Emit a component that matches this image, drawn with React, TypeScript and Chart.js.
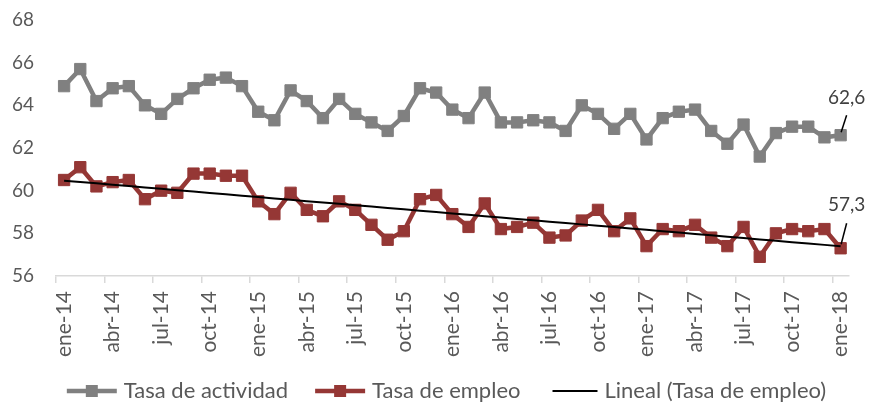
import React, { useEffect, useRef } from 'react';
import { Chart, registerables } from 'chart.js';

Chart.register(...registerables);

const monthAbbr = ['ene', 'feb', 'mar', 'abr', 'may', 'jun', 'jul', 'ago', 'sep', 'oct', 'nov', 'dic'];
const years = ['14', '15', '16', '17', '18'];

const tasaActividad = [
  64.9, 65.7, 64.2, 64.8, 64.9, 64.0, 63.6, 64.3, 64.8, 65.2, 65.3, 64.9,
  63.7, 63.3, 64.7, 64.2, 63.4, 64.3, 63.6, 63.2, 62.8, 63.5, 64.8, 64.6,
  63.8, 63.4, 64.6, 63.2, 63.2, 63.3, 63.2, 62.8, 64.0, 63.6, 62.9, 63.6,
  62.4, 63.4, 63.7, 63.8, 62.8, 62.2, 63.1, 61.6, 62.7, 63.0, 63.0, 62.5,
  62.6,
];

const tasaEmpleo = [
  60.5, 61.1, 60.2, 60.4, 60.5, 59.6, 60.0, 59.9, 60.8, 60.8, 60.7, 60.7,
  59.5, 58.9, 59.9, 59.1, 58.8, 59.5, 59.1, 58.4, 57.7, 58.1, 59.6, 59.8,
  58.9, 58.3, 59.4, 58.2, 58.3, 58.5, 57.8, 57.9, 58.6, 59.1, 58.1, 58.7,
  57.4, 58.2, 58.1, 58.4, 57.8, 57.4, 58.3, 56.9, 58.0, 58.2, 58.1, 58.2,
  57.3,
];

const yTicks = [56, 58, 60, 62, 64, 66, 68];
const seriesNames = ['Tasa de actividad', 'Tasa de empleo', 'Lineal (Tasa de empleo)'];

const categories: string[] = [];
years.forEach((y, yi) => {
  monthAbbr.forEach((m, mi) => {
    if (yi < years.length - 1 || mi === 0) categories.push(`${m}-${y}`);
  });
});

// least-squares linear trend of tasaEmpleo (Excel "Lineal")
function linearTrend(vals: number[]): number[] {
  const n = vals.length;
  let sx = 0, sy = 0, sxx = 0, sxy = 0;
  vals.forEach((v, i) => { sx += i; sy += v; sxx += i * i; sxy += i * v; });
  const b = (n * sxy - sx * sy) / (n * sxx - sx * sx);
  const a = (sy - b * sx) / n;
  return vals.map((_, i) => a + b * i);
}

const GRAY = '#808080';
const RED = '#953735';
const TEXT = '#595959';
const FONT = '"Lato", "Noto Sans", sans-serif';

function makeLegendIcon(color: string, lineW: number, startX: number, marker: boolean) {
  const c = document.createElement('canvas');
  c.width = 80;
  c.height = 20;
  const g = c.getContext('2d')!;
  g.strokeStyle = color;
  g.lineWidth = lineW;
  g.beginPath();
  g.moveTo(startX, 10);
  g.lineTo(79, 10);
  g.stroke();
  if (marker) {
    g.fillStyle = color;
    const cx = (startX + 79) / 2;
    g.fillRect(cx - 6, 4, 12, 12);
  }
  return c;
}

const endLabels = {
  id: 'endLabels',
  afterDatasetsDraw(chart: any) {
    const ctx = chart.ctx;
    const specs = [
      { ds: 0, vals: tasaActividad, dy: -37, l0: -3, l1: -20 },
      { ds: 1, vals: tasaEmpleo, dy: -43, l0: -4, l1: -25 },
    ];
    ctx.save();
    specs.forEach((s) => {
      const meta = chart.getDatasetMeta(s.ds);
      const idx = s.vals.length - 1;
      const pt = meta.data[idx];
      if (!pt) return;
      ctx.strokeStyle = '#000000';
      ctx.lineWidth = 1.5;
      ctx.beginPath();
      ctx.moveTo(pt.x + 0.5, pt.y + s.l0);
      ctx.lineTo(pt.x + 6, pt.y + s.l1);
      ctx.stroke();
      ctx.fillStyle = '#404040';
      ctx.font = `19px ${FONT}`;
      ctx.textAlign = 'center';
      ctx.textBaseline = 'middle';
      ctx.fillText(s.vals[idx].toFixed(1).replace('.', ','), pt.x + 6, pt.y + s.dy);
    });
    ctx.restore();
  },
};

export default function App() {
  const ref = useRef<HTMLCanvasElement | null>(null);

  useEffect(() => {
    document.body.style.margin = '0';
    if (!ref.current) return;
    const trend = linearTrend(tasaEmpleo);
    const icons = [
      makeLegendIcon(GRAY, 4.5, 29, true),
      makeLegendIcon(RED, 4.5, 29, true),
      makeLegendIcon('#000000', 2, 34, false),
    ];

    const chart = new Chart(ref.current, {
      type: 'line',
      data: {
        labels: categories,
        datasets: [
          {
            label: seriesNames[0],
            data: tasaActividad,
            borderColor: GRAY,
            backgroundColor: GRAY,
            borderWidth: 4.5,
            pointStyle: 'rect',
            pointRadius: 8,
            pointBorderWidth: 1,
            pointBackgroundColor: GRAY,
            pointBorderColor: GRAY,
            tension: 0,
            order: 3,
          },
          {
            label: seriesNames[1],
            data: tasaEmpleo,
            borderColor: RED,
            backgroundColor: RED,
            borderWidth: 4.5,
            pointStyle: 'rect',
            pointRadius: 8,
            pointBorderWidth: 1,
            pointBackgroundColor: RED,
            pointBorderColor: RED,
            tension: 0,
            order: 2,
          },
          {
            label: seriesNames[2],
            data: trend,
            borderColor: '#000000',
            borderWidth: 2,
            pointRadius: 0,
            tension: 0,
            order: 1,
          },
        ],
      },
      options: {
        responsive: false,
        animation: false,
        devicePixelRatio: 1,
        layout: { padding: { left: 12, right: 17, top: 20, bottom: -7 } },
        scales: {
          x: {
            type: 'category',
            offset: true,
            grid: {
              offset: true,
              drawOnChartArea: false,
              drawTicks: true,
              tickLength: 7,
              lineWidth: 1.5,
              color: (c: any) => (c.index % 3 === 0 ? '#d9d9d9' : 'rgba(0,0,0,0)'),
            },
            border: { display: true, color: '#d9d9d9', width: 1.5 },
            ticks: {
              autoSkip: false,
              maxRotation: 90,
              minRotation: 90,
              padding: 8,
              color: TEXT,
              font: { family: FONT, size: 21 },
              callback: (_v: any, i: number) => (i % 3 === 0 ? categories[i] : ''),
            },
            afterFit: (s: any) => { s.height = 101; s.paddingTop = 0; s.paddingBottom = 0; },
          },
          y: {
            min: 56,
            max: 68,
            grid: { display: false, drawTicks: false },
            border: { display: false },
            afterBuildTicks: (s: any) => { s.ticks = yTicks.map((v) => ({ value: v })); },
            ticks: {
              padding: 22,
              color: TEXT,
              font: { family: FONT, size: 19 },
            },
            afterFit: (s: any) => { s.width = 44; s.paddingTop = 0; s.paddingBottom = 0; },
          },
        },
        plugins: {
          tooltip: { enabled: false },
          legend: {
            display: true,
            position: 'bottom',
            labels: {
              usePointStyle: true,
              pointStyleWidth: 70,
              padding: 3,
              color: TEXT,
              font: { family: FONT, size: 22 },
              generateLabels: () =>
                seriesNames.map((name, i) => ({
                  text: name,
                  pointStyle: icons[i] as any,
                  fillStyle: 'rgba(0,0,0,0)',
                  strokeStyle: 'rgba(0,0,0,0)',
                  lineWidth: 0,
                  hidden: false,
                  datasetIndex: i,
                  fontColor: TEXT,
                })),
            },
          },
        },
      },
      plugins: [endLabels],
    });
    return () => chart.destroy();
  }, []);

  return (
    <div style={{ width: 874, height: 405 }}>
      <canvas ref={ref} width={874} height={405} style={{ width: 874, height: 405, display: 'block' }} />
    </div>
  );
}
